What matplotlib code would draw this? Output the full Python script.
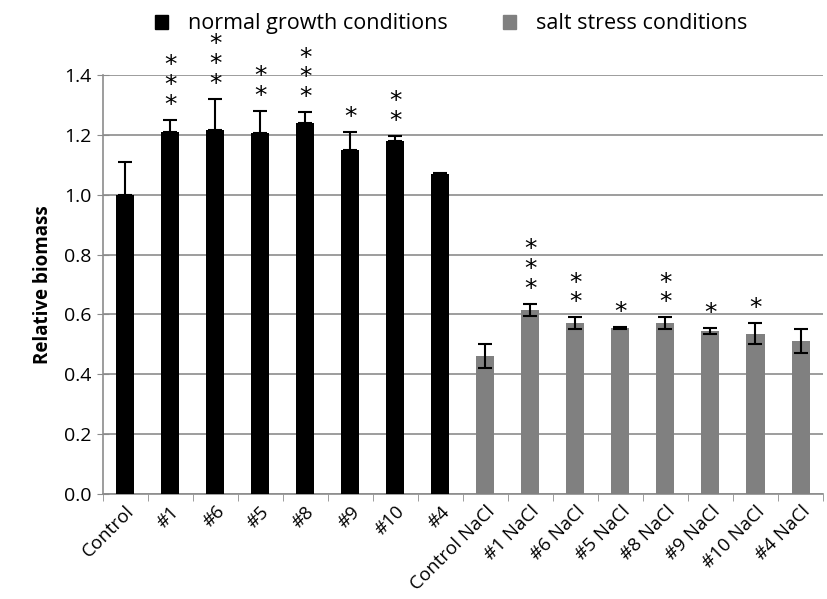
import matplotlib.pyplot as plt
import numpy as np
from matplotlib.patches import Patch

plt.rcParams["font.family"] = ["Open Sans", "DejaVu Sans"]

labels = ["Control", "#1", "#6", "#5", "#8", "#9", "#10", "#4",
          "Control NaCl", "#1 NaCl", "#6 NaCl", "#5 NaCl", "#8 NaCl",
          "#9 NaCl", "#10 NaCl", "#4 NaCl"]
normal_vals = [1.00, 1.21, 1.215, 1.205, 1.24, 1.15, 1.18, 1.07]
normal_err = [0.11, 0.04, 0.105, 0.075, 0.035, 0.06, 0.015, 0.003]
salt_vals = [0.46, 0.615, 0.57, 0.555, 0.57, 0.545, 0.535, 0.51]
salt_err = [0.04, 0.02, 0.02, 0.002, 0.02, 0.01, 0.035, 0.04]
normal_stars = [0, 3, 3, 2, 3, 1, 2, 0]
salt_stars = [0, 3, 2, 1, 2, 1, 1, 0]

fig = plt.figure(figsize=(8.28, 5.99), dpi=100)
ax = fig.add_axes([0.124, 0.175, 0.870, 0.700])

xn = np.arange(len(normal_vals))
xs = np.arange(len(salt_vals)) + len(normal_vals)

ax.bar(xn, normal_vals, width=0.4, color="black", zorder=3)
ax.errorbar(xn, normal_vals, yerr=[np.zeros(len(normal_err)), normal_err],
            fmt="none", ecolor="black", elinewidth=1.5, capsize=5, capthick=1.5, zorder=4)
ax.bar(xs, salt_vals, width=0.4, color="#808080", zorder=3)
ax.errorbar(xs, salt_vals, yerr=salt_err, fmt="none", ecolor="black",
            elinewidth=1.5, capsize=5, capthick=1.5, zorder=4)

# significance stars, stacked in one text per bar
for x, v, e, n in zip(list(xn) + list(xs), normal_vals + salt_vals,
                      normal_err + salt_err, normal_stars + salt_stars):
    if n:
        ax.text(x, v + e + 0.01, "\n".join(["*"] * n), ha="center", va="bottom",
                fontsize=18, family="DejaVu Sans", linespacing=0.78, clip_on=False)

ax.set_ylim(0, 1.4)
ax.set_xlim(-0.5, len(labels) - 0.5)
ax.set_yticks(np.arange(0, 1.41, 0.2))
ax.set_yticklabels([f"{t:.1f}" for t in np.arange(0, 1.41, 0.2)], fontsize=14)
ax.yaxis.grid(True, color="#8c8c8c", linewidth=1.2, zorder=0)
ax.set_axisbelow(True)

ax.set_xticks(np.arange(len(labels)))
ax.set_xticklabels(labels, rotation=45, ha="right", rotation_mode="anchor", fontsize=13.5)
ax.tick_params(axis="x", which="major", length=0, pad=6)
ax.set_xticks(np.arange(len(labels) + 1) - 0.5, minor=True)
ax.tick_params(axis="x", which="minor", length=5, color="#8c8c8c")
ax.tick_params(axis="y", length=8, direction="inout", color="#8c8c8c", pad=4)

for s in ["top", "right"]:
    ax.spines[s].set_visible(False)
for s in ["left", "bottom"]:
    ax.spines[s].set_color("#8c8c8c")
    ax.spines[s].set_linewidth(1.2)

ax.set_ylabel("Relative biomass", fontsize=13.5, fontweight="bold", labelpad=8)

handles = [Patch(color="black", label="normal growth conditions"),
           Patch(color="#808080", label="salt stress conditions")]
fig.legend(handles=handles, loc="upper center", bbox_to_anchor=(0.545, 1.01), ncol=2,
           frameon=False, fontsize=15.5, handlelength=0.6, handleheight=0.6,
           columnspacing=2.6, handletextpad=0.9)

fig.savefig("out.png", dpi=100)
